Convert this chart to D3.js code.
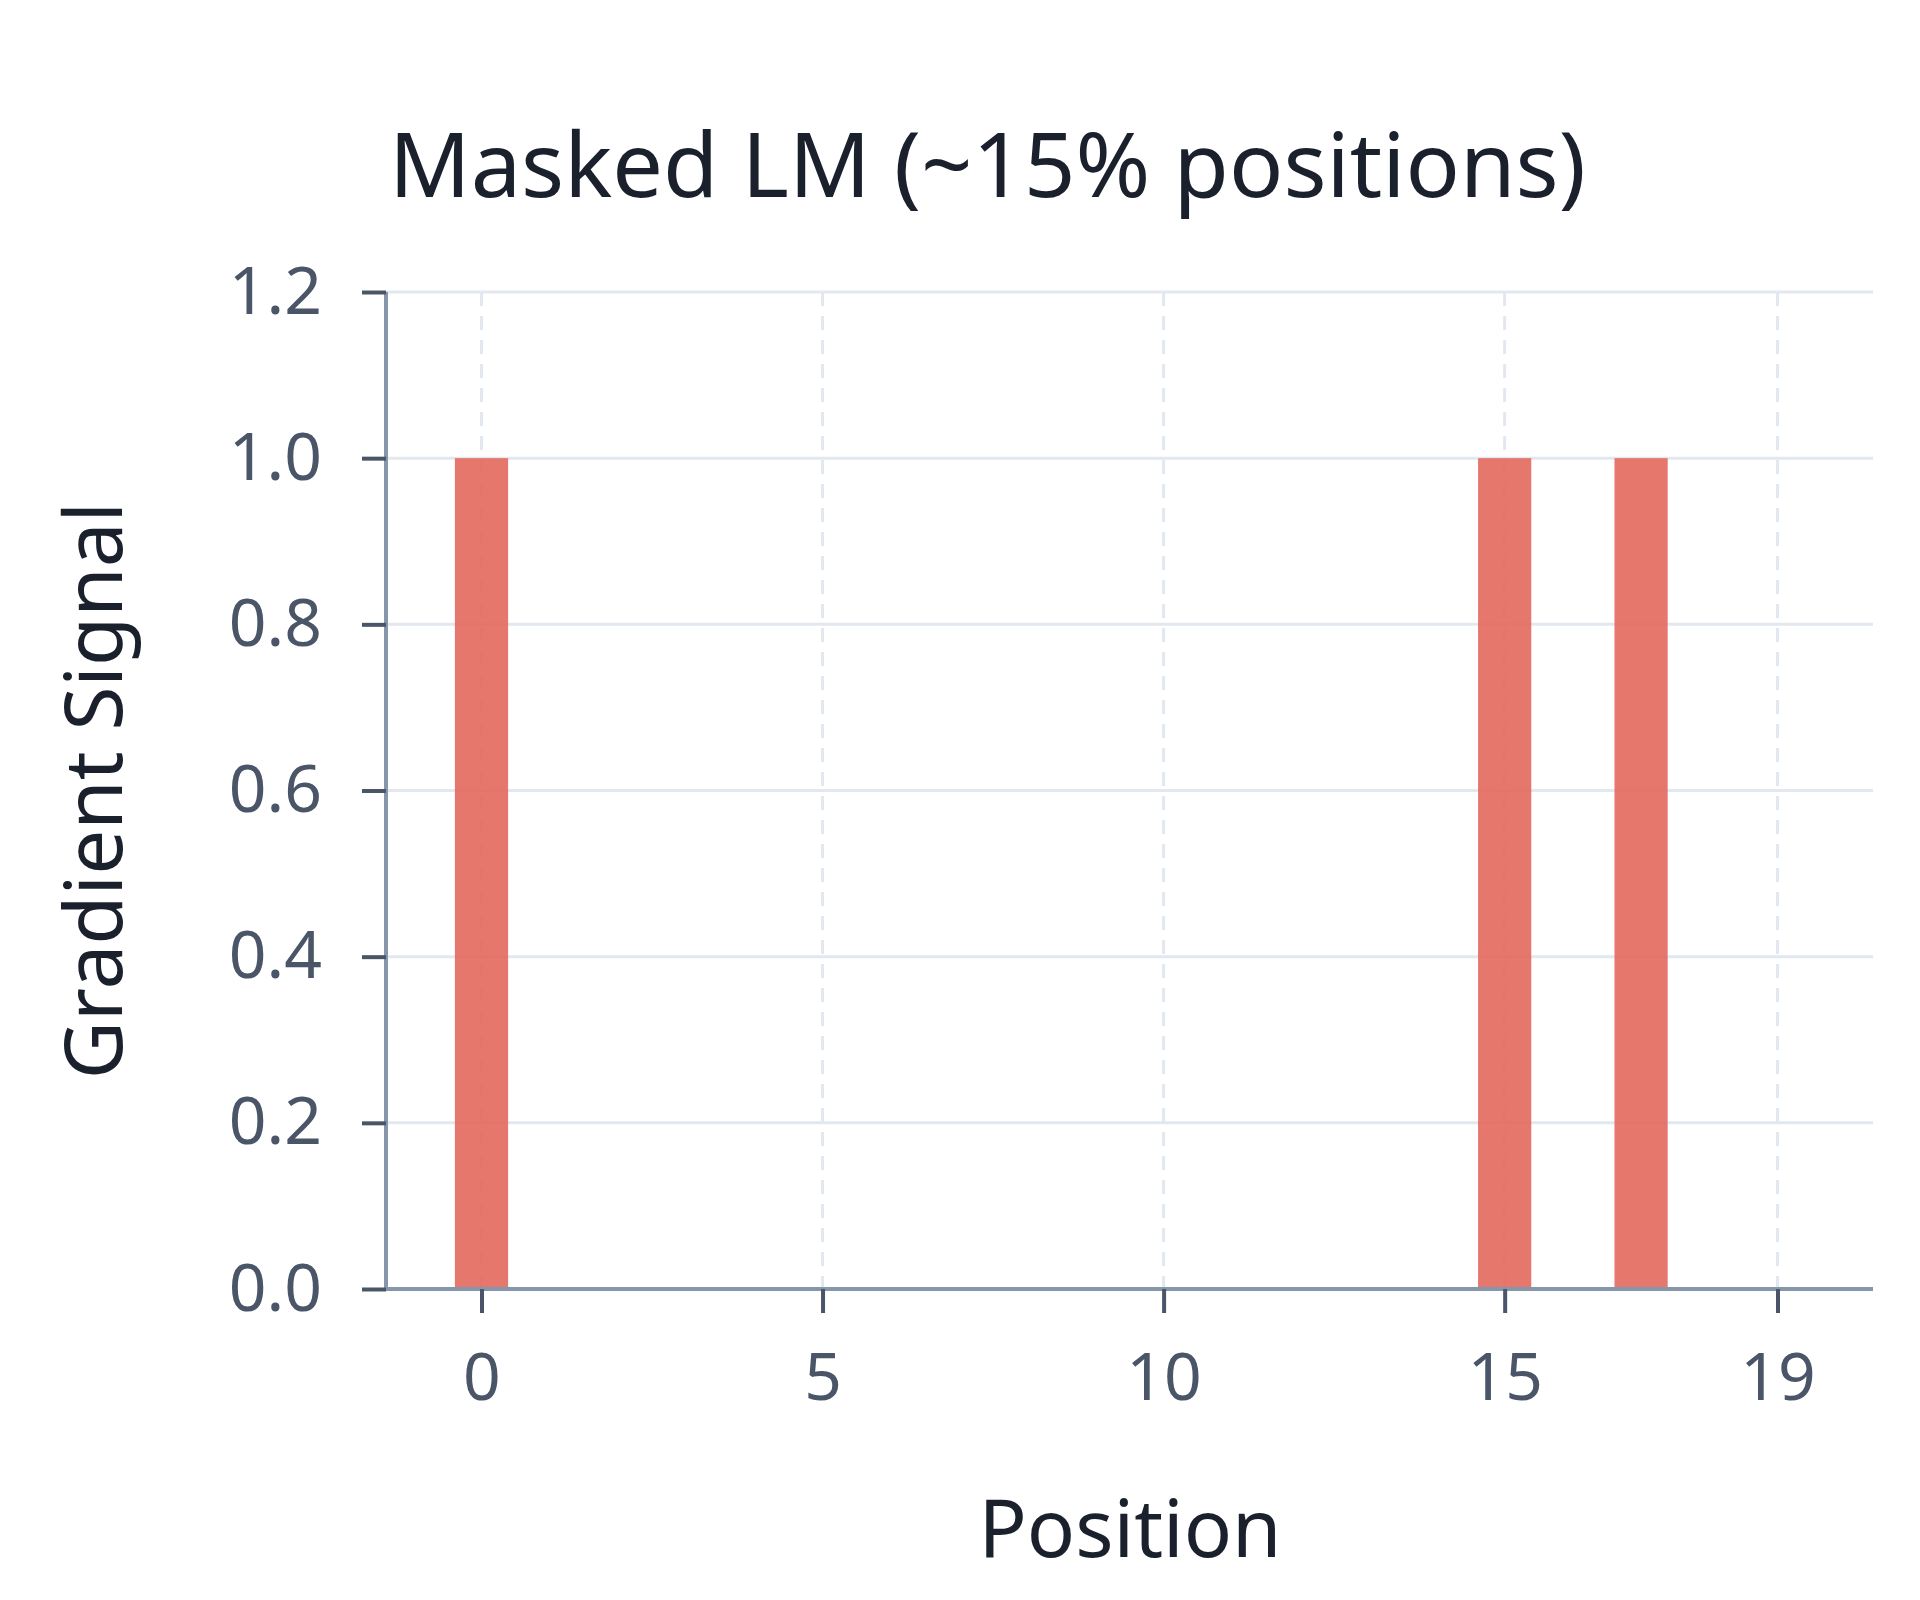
<!DOCTYPE html>
<html>
<head>
<meta charset="utf-8">
<script src="https://cdn.jsdelivr.net/npm/d3@7"></script>
<style>
  body { margin: 0; background: #fff; }
  text { font-family: "Noto Sans", sans-serif; }
</style>
</head>
<body>
<svg id="chart"></svg>
<script>
const positions = d3.range(20);
const signal = [1,0,0,0,0,0,0,0,0,0,0,0,0,0,0,1,0,1,0,0];
const xTicks = [0, 5, 10, 15, 19];
const yTicks = [0, 0.2, 0.4, 0.6, 0.8, 1.0, 1.2];

const width = 1920, height = 1600;
const margin = {left: 386, right: 47, top: 292, bottom: 311};

const svg = d3.select("#chart").attr("width", width).attr("height", height);

const x = d3.scaleLinear().domain([-1.4, 20.4]).range([margin.left, width - margin.right]);
const y = d3.scaleLinear().domain([0, 1.2]).range([height - margin.bottom, margin.top]);

// grid
svg.append("g").selectAll("line").data(yTicks.slice(1)).enter().append("line")
    .attr("x1", margin.left).attr("x2", width - margin.right)
    .attr("y1", d => y(d)).attr("y2", d => y(d))
    .attr("stroke", "#e2e8f0").attr("stroke-width", 3);
svg.append("g").selectAll("line").data(xTicks).enter().append("line")
    .attr("x1", d => x(d)).attr("x2", d => x(d))
    .attr("y1", y(1.2)).attr("y2", y(0))
    .attr("stroke", "#e2e8f0").attr("stroke-width", 3)
    .attr("stroke-dasharray", "14,10");

// bars
const bw = 0.78;
svg.append("g").selectAll("rect").data(positions.filter(i => signal[i] > 0)).enter().append("rect")
    .attr("x", d => x(d - bw / 2)).attr("width", x(bw) - x(0))
    .attr("y", d => y(signal[d])).attr("height", d => y(0) - y(signal[d]))
    .attr("fill", "#e3685c").attr("fill-opacity", 0.9);

// axes
const yAxis = svg.append("g").attr("transform", `translate(${margin.left},0)`)
    .call(d3.axisLeft(y).tickValues(yTicks).tickFormat(d3.format(".1f")).tickSize(24).tickPadding(40));
const xAxis = svg.append("g").attr("transform", `translate(0,${y(0)})`)
    .call(d3.axisBottom(x).tickValues(xTicks).tickSize(24).tickPadding(40));
[xAxis, yAxis].forEach(a => {
  a.select(".domain").attr("stroke", "#8797ab").attr("stroke-width", 4);
  a.selectAll(".tick line").attr("stroke", "#4a5568").attr("stroke-width", 4);
  a.selectAll(".tick text").attr("fill", "#4a5568").style("font-size", "66px");
});
xAxis.select(".domain").attr("d", `M${margin.left},0H${width - margin.right}`);
yAxis.select(".domain").attr("d", `M0,${y(0)}V${y(1.2)}`);

// labels
svg.append("text").attr("x", 389).attr("y", 197)
    .attr("fill", "#1a202c").style("font-size", "90px").text("Masked LM (~15% positions)");
svg.append("text").attr("x", 1130).attr("y", 1557).attr("text-anchor", "middle")
    .attr("fill", "#1a202c").style("font-size", "80px").text("Position");
svg.append("text").attr("transform", `translate(122,${(y(0) + y(1.2)) / 2}) rotate(-90)`)
    .attr("text-anchor", "middle")
    .attr("fill", "#1a202c").style("font-size", "80px").text("Gradient Signal");
</script>
</body>
</html>
